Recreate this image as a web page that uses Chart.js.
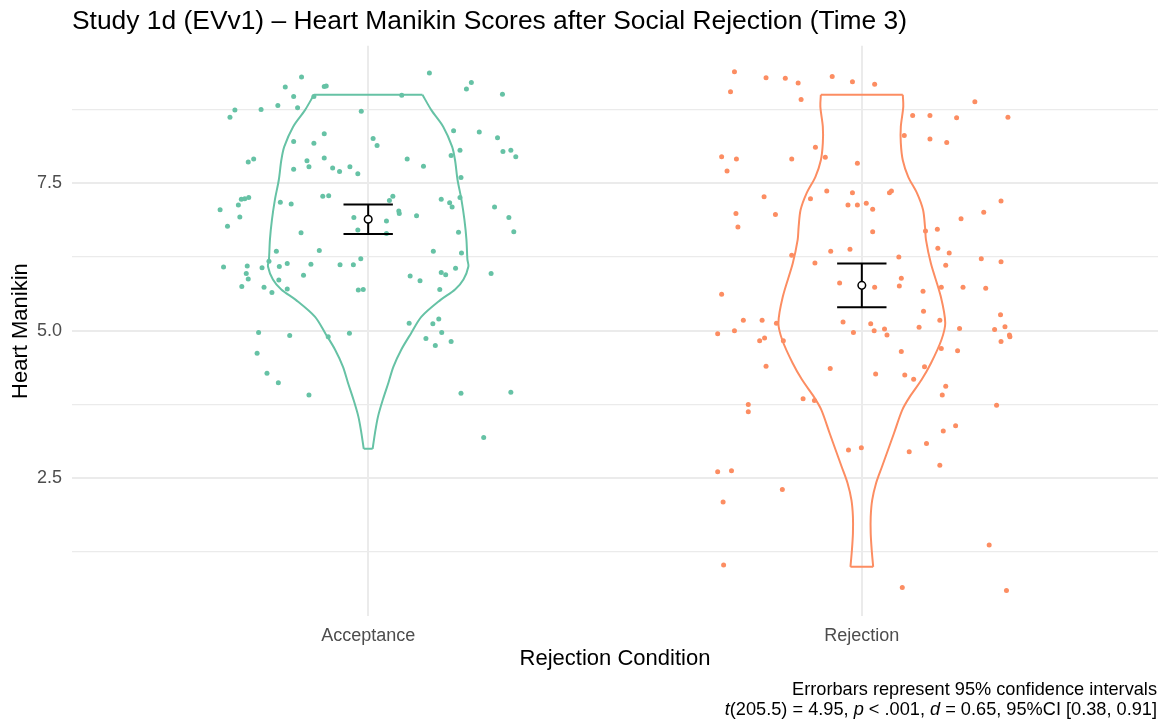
<!DOCTYPE html>
<html>
<head>
<meta charset="utf-8">
<script src="https://cdn.jsdelivr.net/npm/chart.js@4.4.1/dist/chart.umd.min.js"></script>
<style>
  html, body { margin: 0; padding: 0; background: #fff; }
  #wrap { width: 1160px; height: 723px; position: relative; }
</style>
</head>
<body>
<div id="wrap"><canvas id="chart" width="1160" height="723"></canvas></div>
<script>
// categories and axis ticks
const conditions = ['Acceptance', 'Rejection'];
const yTickValues = [1.25, 2.5, 3.75, 5, 6.25, 7.5, 8.75];
const yTickLabels = ['', '2.5', '', '5.0', '', '7.5', ''];

// mean and 95% CI per condition
const means = [6.89, 5.77];
const ciLow = [6.64, 5.40];
const ciHigh = [7.14, 6.14];

// violin outlines: heights and half widths (x units)
const accViolinY = [9.0, 8.74, 8.46, 8.12, 7.89, 7.56, 7.22, 6.88, 6.55, 6.21, 6.09, 5.87, 5.70, 5.52, 5.24, 4.96, 4.68, 4.39, 4.12, 3.84, 3.55, 3.28, 3.0];
const accViolinHalf = [0.110, 0.128, 0.152, 0.170, 0.176, 0.181, 0.189, 0.195, 0.199, 0.201, 0.203, 0.193, 0.176, 0.146, 0.108, 0.087, 0.067, 0.051, 0.041, 0.030, 0.020, 0.014, 0.009];
const rejViolinY = [9.0, 8.80, 8.46, 8.18, 7.89, 7.61, 7.33, 7.05, 6.76, 6.54, 6.14, 5.58, 5.13, 4.84, 4.45, 4.17, 3.88, 3.66, 3.26, 2.98, 2.70, 2.42, 2.13, 1.85, 1.57, 1.29, 1.0];
const rejViolinHalf = [0.083, 0.084, 0.079, 0.079, 0.083, 0.094, 0.112, 0.124, 0.128, 0.130, 0.140, 0.160, 0.169, 0.161, 0.140, 0.121, 0.097, 0.082, 0.065, 0.053, 0.041, 0.029, 0.021, 0.018, 0.018, 0.020, 0.023];

// jittered raw scores: horizontal offset from category, and score
const accOffset = [-0.135, -0.168, -0.151, -0.089, -0.085, -0.110, -0.183, -0.143, -0.217, -0.270, -0.280, -0.014, 0.068, 0.124, 0.209, 0.199, 0.272,
  -0.089, -0.151, -0.110, 0.010, 0.018, 0.173, 0.225, 0.262, 0.273, 0.289, 0.299, 0.186, 0.168,
  -0.243, -0.232, -0.124, -0.120, -0.089, -0.151, -0.072, -0.058, -0.037, -0.021, 0.079, 0.112, 0.188,
  -0.257, -0.250, -0.242, -0.263, -0.300, -0.260, -0.285, -0.178, -0.156, -0.092, -0.080, 0.050, 0.043, 0.062, 0.063,
  -0.029, -0.021, 0.037, 0.037, 0.098, 0.148, 0.165, 0.170, 0.186, 0.256, 0.285, 0.295, 0.183, -0.136,
  -0.186, -0.099, -0.015, 0.132, 0.189, -0.293, -0.245, -0.247, -0.243, -0.256, -0.215, -0.201, -0.180, -0.164,
  -0.181, -0.211, -0.195, -0.164, -0.131, -0.116, -0.057, -0.030, -0.020, -0.010, 0.085, 0.105, 0.148, 0.157,
  0.177, 0.145, 0.249, 0.083, 0.131, 0.143, 0.149, 0.117, 0.136, 0.168, -0.222, -0.159, -0.081, -0.038,
  -0.225, -0.205, -0.182, -0.120, 0.188, 0.289, 0.234];
const accScore = [9.30, 9.13, 8.97, 9.14, 9.15, 8.97, 8.82, 8.78, 8.75, 8.74, 8.62, 8.72, 8.99, 9.37, 9.21, 9.10, 9.01,
  8.34, 8.21, 8.18, 8.26, 8.14, 8.39, 8.37, 8.27, 8.04, 8.06, 7.95, 8.06, 7.97,
  7.86, 7.91, 7.88, 7.78, 7.93, 7.74, 7.76, 7.70, 7.78, 7.66, 7.91, 7.79, 7.60,
  7.23, 7.24, 7.26, 7.13, 7.05, 6.93, 6.77, 7.18, 7.15, 7.28, 7.29, 7.28, 7.21, 7.03, 6.99,
  6.92, 6.71, 6.86, 6.65, 6.95, 7.23, 7.17, 7.10, 7.26, 7.10, 6.92, 6.68, 6.67, 6.66,
  6.35, 6.36, 6.22, 6.35, 6.32, 6.08, 6.10, 5.97, 5.88, 5.75, 6.07, 6.18, 6.09, 6.14,
  5.86, 5.74, 5.65, 5.71, 5.94, 6.13, 6.12, 6.12, 5.69, 5.70, 5.93, 5.85, 5.99, 5.95,
  6.06, 5.70, 5.97, 5.13, 5.12, 5.20, 4.97, 4.87, 4.75, 4.82, 4.97, 4.92, 4.90, 4.96,
  4.62, 4.28, 4.12, 3.91, 3.94, 3.96, 3.19];

const rejOffset = [-0.258, -0.266, -0.194, -0.155, -0.129, -0.123, -0.060, -0.019, 0.026, 0.229, 0.103, 0.138, 0.192, 0.296,
  0.086, 0.138, 0.172, -0.094, -0.284, -0.254, -0.273, -0.142, -0.074, -0.009, -0.198, -0.255, -0.251, -0.175,
  -0.104, -0.071, -0.019, -0.028, -0.009, 0.009, 0.022, 0.056, 0.060, 0.022, 0.129, 0.153, 0.201, 0.247, 0.282,
  0.154, 0.177, 0.170, 0.242, 0.282, -0.024, -0.063, -0.095, -0.142, 0.075, 0.080, 0.076, 0.026, -0.045, -0.284,
  0.124, 0.161, 0.205, 0.251, 0.125, 0.158, 0.281, 0.290, 0.269, 0.299, 0.300, 0.282, 0.198, 0.116,
  -0.240, -0.202, -0.173, -0.258, -0.292, -0.207, -0.197, -0.159, -0.038, 0.018, 0.025, 0.046, 0.051, -0.017,
  0.080, 0.161, 0.194, -0.194, -0.064, 0.028, 0.087, 0.105, 0.127, 0.170, 0.163, -0.119, -0.096, -0.230, 0.273,
  -0.230, -0.027, -0.001, 0.096, 0.131, 0.165, 0.190, 0.158, -0.292, -0.264, -0.161, -0.281, 0.258, -0.280, 0.082, 0.293];
const rejScore = [9.39, 9.05, 9.29, 9.28, 9.20, 8.92, 9.31, 9.22, 9.18, 8.88, 8.65, 8.65, 8.61, 8.62,
  8.31, 8.25, 8.19, 8.11, 7.95, 7.91, 7.71, 7.91, 7.94, 7.84, 7.27, 6.99, 6.76, 6.97,
  7.24, 7.37, 7.34, 7.13, 7.13, 7.16, 7.06, 7.34, 7.37, 6.68, 6.69, 6.72, 6.90, 7.01, 7.20,
  6.40, 6.32, 6.11, 6.22, 6.17, 6.38, 6.35, 6.15, 6.28, 6.25, 5.89, 5.76, 5.74, 5.81, 5.62,
  5.67, 5.74, 5.74, 5.72, 5.33, 5.18, 5.27, 5.07, 5.02, 4.93, 4.90, 4.82, 5.04, 5.06,
  5.18, 5.18, 5.13, 5.00, 4.95, 4.83, 4.88, 4.83, 5.15, 5.12, 5.00, 5.03, 4.93, 4.97,
  4.65, 4.70, 4.66, 4.40, 4.36, 4.27, 4.25, 4.18, 4.39, 4.06, 3.91, 3.85, 3.82, 3.75, 3.74,
  3.63, 2.98, 3.02, 2.95, 3.09, 3.30, 3.39, 2.72, 2.61, 2.63, 2.31, 2.10, 1.37, 1.03, 0.65, 0.60];

const FONT = '"Liberation Sans", Arial, Helvetica, sans-serif';
const GREEN = '#66C2A5';
const ORANGE = '#FC8D62';
const CAP = 0.05;

function violin(pos, ys, half, color) {
  const left = ys.map((y, i) => ({ x: pos - half[i], y }));
  const right = ys.map((y, i) => ({ x: pos + half[i], y }));
  const n = ys.length - 1;
  const parts = [left, right, [left[0], right[0]], [left[n], right[n]]];
  return parts.map((d, k) => ({
    data: d, showLine: true, borderColor: color, borderWidth: 2,
    pointRadius: 0, tension: k < 2 ? 0.3 : 0, order: 3
  }));
}

function jitter(pos, offs, scores, color) {
  return {
    data: scores.map((y, i) => ({ x: pos + offs[i], y })),
    pointRadius: 2.5, pointBackgroundColor: color, pointBorderWidth: 0, order: 2
  };
}

function errorBar(i) {
  const pos = i + 1;
  const line = d => ({ data: d, showLine: true, borderColor: '#000', borderWidth: 2, pointRadius: 0, order: 1 });
  return [
    line([{ x: pos, y: ciLow[i] }, { x: pos, y: ciHigh[i] }]),
    line([{ x: pos - CAP, y: ciHigh[i] }, { x: pos + CAP, y: ciHigh[i] }]),
    line([{ x: pos - CAP, y: ciLow[i] }, { x: pos + CAP, y: ciLow[i] }])
  ];
}

const textPlugin = {
  id: 'texts',
  afterDraw(chart) {
    const ctx = chart.ctx;
    const area = chart.chartArea;
    ctx.save();
    ctx.fillStyle = '#000';
    ctx.textBaseline = 'alphabetic';
    ctx.font = `26.4px ${FONT}`;
    ctx.textAlign = 'left';
    ctx.fillText('Study 1d (EVv1) \u2013 Heart Manikin Scores after Social Rejection (Time 3)', area.left, 28.5);

    ctx.font = `22px ${FONT}`;
    ctx.textAlign = 'center';
    ctx.fillText('Rejection Condition', (area.left + area.right) / 2, 665);
    ctx.save();
    ctx.translate(26.7, (area.top + area.bottom) / 2);
    ctx.rotate(-Math.PI / 2);
    ctx.fillText('Heart Manikin', 0, 0);
    ctx.restore();

    const right = area.right - 1;
    const capSize = 18.2;
    ctx.font = `${capSize}px ${FONT}`;
    ctx.textAlign = 'right';
    ctx.fillText('Errorbars represent 95% confidence intervals', right, 695);

    const parts = [['t', true], ['(205.5) = 4.95, ', false], ['p', true], [' < .001, ', false],
      ['d', true], [' = 0.65, 95%CI [0.38, 0.91]', false]];
    const fontOf = it => `${it ? 'italic ' : ''}${capSize}px ${FONT}`;
    let total = 0;
    parts.forEach(([s, it]) => { ctx.font = fontOf(it); total += ctx.measureText(s).width; });
    let x = right - total;
    ctx.textAlign = 'left';
    parts.forEach(([s, it]) => { ctx.font = fontOf(it); ctx.fillText(s, x, 714.5); x += ctx.measureText(s).width; });
    ctx.restore();
  }
};

new Chart(document.getElementById('chart'), {
  type: 'scatter',
  data: {
    datasets: [
      { data: means.map((m, i) => ({ x: i + 1, y: m })), pointRadius: 3.8, pointBackgroundColor: '#fff',
        pointBorderColor: '#000', pointBorderWidth: 1.5, order: 0 },
      ...errorBar(0), ...errorBar(1),
      jitter(1, accOffset, accScore, GREEN),
      jitter(2, rejOffset, rejScore, ORANGE),
      ...violin(1, accViolinY, accViolinHalf, GREEN),
      ...violin(2, rejViolinY, rejViolinHalf, ORANGE)
    ]
  },
  options: {
    responsive: false,
    animation: false,
    events: [],
    layout: { autoPadding: false, padding: { top: 45.8, right: 2, left: 0, bottom: 0 } },
    plugins: { legend: { display: false }, tooltip: { enabled: false }, title: { display: false } },
    scales: {
      x: {
        type: 'linear', min: 0.4, max: 2.6,
        afterBuildTicks: s => { s.ticks = conditions.map((c, i) => ({ value: i + 1 })); },
        afterFit: s => { s.height = 106.6; },
        ticks: {
          callback: v => conditions[Math.round(v) - 1],
          color: '#4D4D4D', font: { family: FONT, size: 18 }, padding: 9,
          autoSkip: false, maxRotation: 0
        },
        grid: { color: '#EBEBEB', lineWidth: 2, drawTicks: false },
        border: { display: false }
      },
      y: {
        type: 'linear', min: 0.16, max: 9.83,
        afterBuildTicks: s => { s.ticks = yTickValues.map(v => ({ value: v })); },
        afterFit: s => { s.width = 72; },
        ticks: {
          callback: (v, i) => yTickLabels[i],
          color: '#4D4D4D', font: { family: FONT, size: 18 }, padding: 10
        },
        grid: {
          color: '#EBEBEB', drawTicks: false,
          lineWidth: c => (yTickLabels[c.index] ? 2 : 1.2)
        },
        border: { display: false }
      }
    }
  },
  plugins: [textPlugin]
});
</script>
</body>
</html>
